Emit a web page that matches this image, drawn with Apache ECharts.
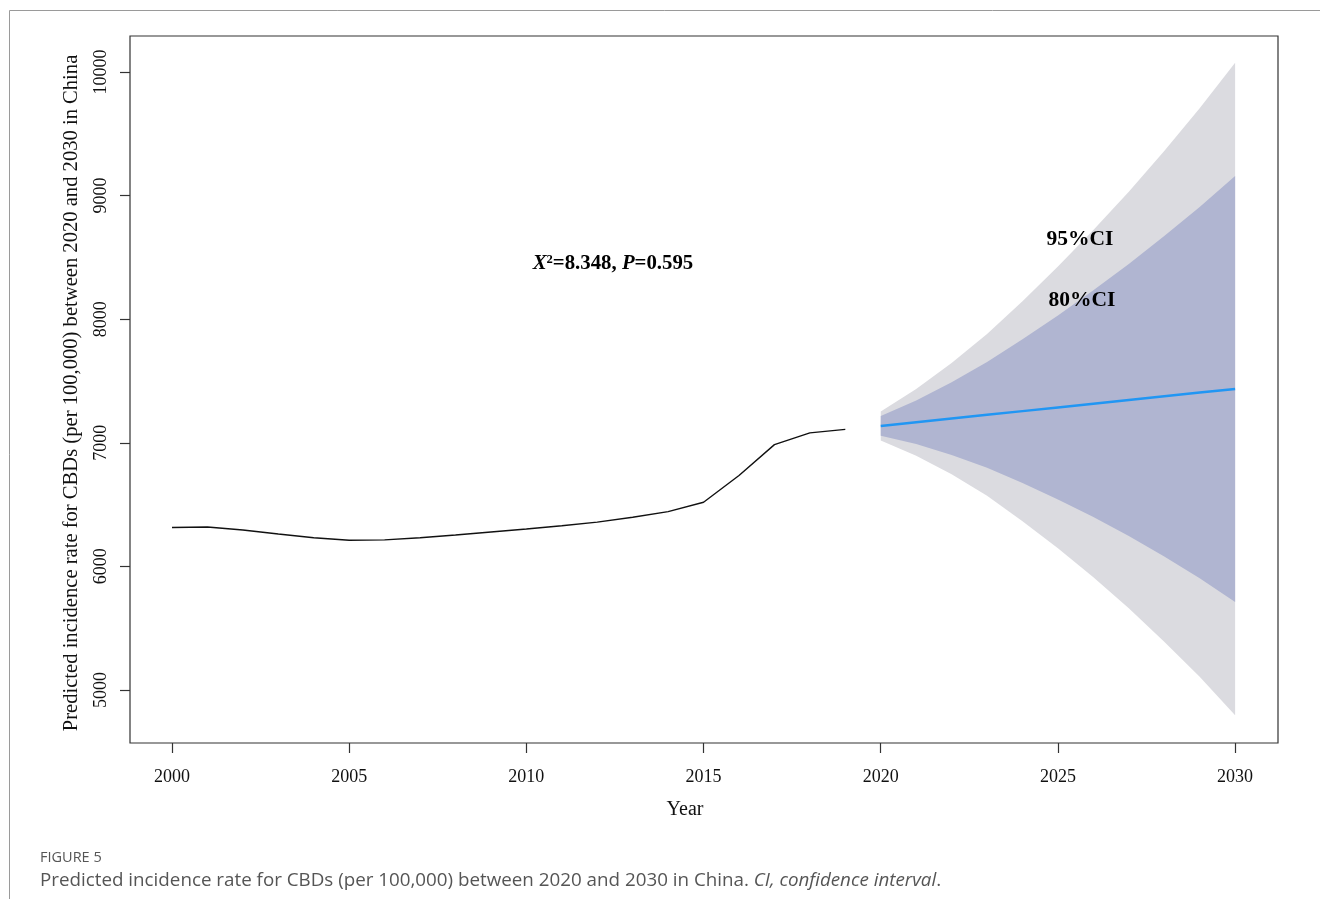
<!DOCTYPE html>
<html>
<head>
<meta charset="utf-8">
<script src="https://cdn.jsdelivr.net/npm/echarts@6/dist/echarts.min.js"></script>
<style>html,body{margin:0;padding:0;background:#fff;}#c{width:1320px;height:899px;}</style>
</head>
<body>
<div id="c"></div>
<script>
// ---- data ----
const histYears = [2000,2001,2002,2003,2004,2005,2006,2007,2008,2009,2010,2011,2012,2013,2014,2015,2016,2017,2018,2019];
const histValues = [6315,6318,6294,6262,6232,6211,6214,6232,6254,6278,6302,6329,6358,6397,6443,6519,6735,6985,7080,7108];
const fcYears = [2020,2021,2022,2023,2024,2025,2026,2027,2028,2029,2030];
const fcMean = [7136,7166,7196,7226,7256,7286,7316,7346,7376,7406,7435];
const hi95 = [7253,7436,7646,7881,8146,8426,8721,9031,9361,9706,10075];
const lo95 = [7019,6896,6746,6571,6366,6146,5911,5661,5391,5106,4795];
const hi80 = [7216,7342,7490,7654,7837,8030,8233,8446,8672,8908,9159];
const lo80 = [7056,6990,6902,6798,6675,6542,6399,6246,6080,5904,5711];
const xTicks = [2000,2005,2010,2015,2020,2025,2030];
const yTicks = [5000,6000,7000,8000,9000,10000];

const serif = '"Liberation Serif","Times New Roman",serif';
const sans = '"Open Sans","Noto Sans",sans-serif';

function band(lo, hi, color) {
  return {
    type: 'custom',
    silent: true,
    z: 1,
    data: fcYears.map((y, i) => [y, lo[i], hi[i]]),
    encode: { x: 0, y: [1, 2] },
    renderItem: function (params, api) {
      if (params.dataIndex !== 0) return null;
      const pts = [];
      for (let i = 0; i < fcYears.length; i++) pts.push(api.coord([fcYears[i], hi[i]]));
      for (let i = fcYears.length - 1; i >= 0; i--) pts.push(api.coord([fcYears[i], lo[i]]));
      return { type: 'polygon', shape: { points: pts }, style: { fill: color, stroke: null } };
    }
  };
}

const chart = echarts.init(document.getElementById('c'), null, { renderer: 'canvas' });
chart.setOption({
  animation: false,
  backgroundColor: '#fff',
  grid: { left: 130, right: 42, top: 36, bottom: 156, show: true, borderColor: '#333', borderWidth: 1.2, backgroundColor: 'transparent' },
  xAxis: {
    type: 'value', min: 1998.815, max: 2031.21,
    axisLine: { show: false },
    splitLine: { show: false },
    axisTick: { show: true, customValues: xTicks, length: 10, lineStyle: { color: '#333', width: 1.2 } },
    axisLabel: { customValues: xTicks, margin: 25, fontFamily: serif, fontSize: 18, color: '#111', formatter: v => String(v) },
    name: 'Year', nameLocation: 'middle', nameGap: 57,
    nameTextStyle: { fontFamily: serif, fontSize: 20, color: '#111', padding: [0, 38, 0, 0] }
  },
  yAxis: {
    type: 'value', min: 4571, max: 10291,
    axisLine: { show: false },
    splitLine: { show: false },
    axisTick: { show: true, customValues: yTicks, length: 10, lineStyle: { color: '#333', width: 1.2 } },
    axisLabel: { customValues: yTicks, rotate: 90, margin: 20, fontFamily: serif, fontSize: 18, color: '#111', formatter: v => String(v) },
    name: 'Predicted incidence rate for CBDs (per 100,000) between 2020 and 2030 in China',
    nameLocation: 'middle', nameGap: 48,
    nameTextStyle: { fontFamily: serif, fontSize: 20.6, color: '#111', padding: [0, 7, 0, 0] }
  },
  series: [
    band(lo95, hi95, '#DBDBE0'),
    band(lo80, hi80, '#B0B5D1'),
    {
      type: 'line', data: histYears.map((y, i) => [y, histValues[i]]),
      showSymbol: false, silent: true, z: 3,
      lineStyle: { color: '#111', width: 1.4 }
    },
    {
      type: 'line', data: fcYears.map((y, i) => [y, fcMean[i]]),
      showSymbol: false, silent: true, z: 3,
      lineStyle: { color: '#2196F3', width: 2.5 }
    }
  ],
  graphic: [
    { type: 'line', z: 100, shape: { x1: 9.5, y1: 10.5, x2: 1320, y2: 10.5 }, style: { stroke: '#9a9a9a', lineWidth: 1 } },
    { type: 'line', z: 100, shape: { x1: 9.5, y1: 10.5, x2: 9.5, y2: 899 }, style: { stroke: '#9a9a9a', lineWidth: 1 } },
    { type: 'text', z: 100, x: 613, y: 264, style: {
        text: '{i|X}²=8.348, {i|P}=0.595', textAlign: 'center', textVerticalAlign: 'middle',
        fontFamily: serif, fontSize: 20.8, fontWeight: 'bold', fill: '#000',
        rich: { i: { fontStyle: 'italic', fontWeight: 'bold', fontFamily: serif, fontSize: 20.8 } }
      } },
    { type: 'text', z: 100, x: 1080, y: 239, style: { text: '95%CI', textAlign: 'center', textVerticalAlign: 'middle', fontFamily: serif, fontSize: 21.5, fontWeight: 'bold', fill: '#000' } },
    { type: 'text', z: 100, x: 1082, y: 300, style: { text: '80%CI', textAlign: 'center', textVerticalAlign: 'middle', fontFamily: serif, fontSize: 21.5, fontWeight: 'bold', fill: '#000' } },
    { type: 'text', z: 100, x: 40, y: 858, style: { text: 'FIGURE 5', textVerticalAlign: 'middle', fontFamily: sans, fontSize: 14.5, fill: '#555' } },
    { type: 'text', z: 100, x: 40, y: 881, style: {
        text: 'Predicted incidence rate for CBDs (per 100,000) between 2020 and 2030 in China. {it|CI, confidence interval}.',
        textVerticalAlign: 'middle', fontFamily: sans, fontSize: 18.8, fill: '#555',
        rich: { it: { fontStyle: 'italic', fontFamily: sans, fontSize: 18.8, fill: '#555' } }
      } }
  ]
});
</script>
</body>
</html>
